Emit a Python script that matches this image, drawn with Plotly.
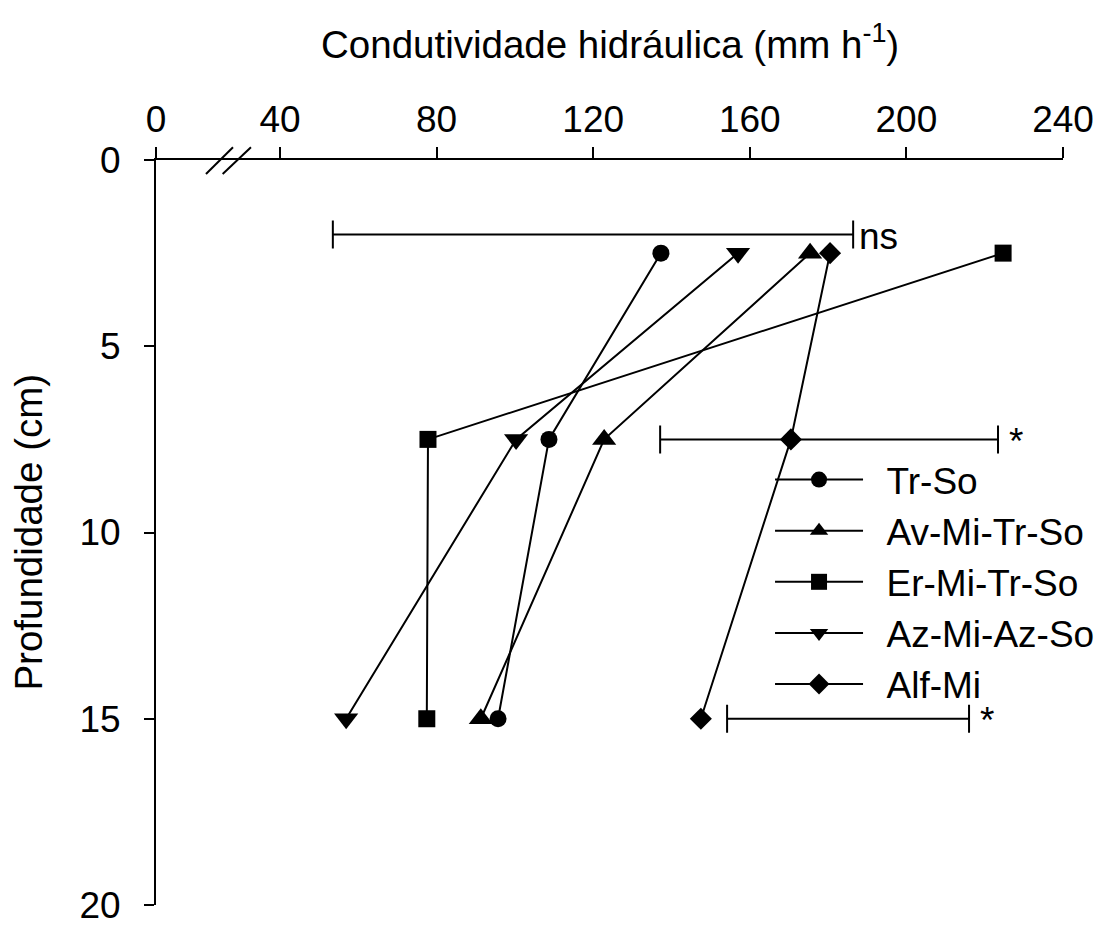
import plotly.graph_objects as go

# ---- data ----
depths = [2.5, 7.5, 15]
series_names = ["Tr-So", "Av-Mi-Tr-So", "Er-Mi-Tr-So", "Az-Mi-Az-So", "Alf-Mi"]
tr_so = [137.3, 108.7, 95.7]
av_mi_tr_so = [175.4, 122.8, 91.3]
er_mi_tr_so = [224.7, 77.8, 77.5]
az_mi_az_so = [157.0, 100.3, 56.9]
alf_mi = [180.5, 170.5, 147.5]
symbols = ["circle", "triangle-up", "square", "triangle-down", "diamond"]
sizes = [17, 21, 17, 21, 17]

# significance bars (left end, right end, depth, label)
sig_depth = [2.0, 7.5, 15]
sig_left = [53.5, 137.1, 154.2]
sig_right = [186.4, 223.4, 216.0]
sig_label = ["ns", "*", "*"]

# x axis with a break: "0" is drawn at this position
X_ZERO_POS = 8.33
x_tick_vals = [X_ZERO_POS, 40, 80, 120, 160, 200, 240]
x_tick_text = ["0", "40", "80", "120", "160", "200", "240"]
y_tick_vals = [0, 5, 10, 15, 20]

FONT = "Liberation Sans, Arial, sans-serif"
FS = 37

fig = go.Figure()
all_series = [tr_so, av_mi_tr_so, er_mi_tr_so, az_mi_az_so, alf_mi]
for name, vals, sym, sz in zip(series_names, all_series, symbols, sizes):
    fig.add_trace(go.Scatter(
        x=vals, y=depths, name="\u2002" + name, mode="lines+markers",
        line=dict(color="black", width=2),
        marker=dict(symbol=sym, size=sz, color="black"),
    ))

for d, l, r in zip(sig_depth, sig_left, sig_right):
    fig.add_trace(go.Scatter(
        x=[(l + r) / 2], y=[d], mode="markers", showlegend=False,
        marker=dict(size=2, opacity=0),
        error_x=dict(type="data", array=[(r - l) / 2], symmetric=True,
                     color="black", thickness=2, width=14),
        hoverinfo="skip",
    ))

annotations = []
for d, r, t in zip(sig_depth, sig_right, sig_label):
    annotations.append(dict(
        x=r, y=d, xref="x", yref="y", text=t, showarrow=False,
        xanchor="left", yanchor="middle",
        xshift=4 if t == "ns" else 9,
        yshift=-2,
        font=dict(family=FONT, size=FS, color="black"),
    ))

annotations.append(dict(
    x=0.5, y=1.158, xref="paper", yref="paper",
    text="Condutividade hidráulica (mm h<sup>-1</sup>)", showarrow=False,
    xanchor="center", yanchor="middle",
    font=dict(family=FONT, size=38.5, color="black"),
))
annotations.append(dict(
    x=-0.141, y=0.50, xref="paper", yref="paper",
    text="Profundidade (cm)", showarrow=False, textangle=-90,
    xanchor="center", yanchor="middle",
    font=dict(family=FONT, size=38.5, color="black"),
))

# axis break marks (paper coordinates)
shapes = []
for x0, x1 in [(0.0551, 0.0849), (0.0735, 0.1047)]:
    shapes.append(dict(type="line", xref="paper", yref="paper",
                       x0=x0, y0=0.9812, x1=x1, y1=1.0171,
                       line=dict(color="black", width=2)))

fig.update_layout(
    template="none",
    width=1108, height=925,
    margin=dict(l=156, r=45, t=160, b=20, pad=0, autoexpand=False),
    paper_bgcolor="white", plot_bgcolor="white",
    font=dict(family=FONT, size=FS, color="black"),
    showlegend=True,
    legend=dict(
        x=0.677, y=0.612, xanchor="left", yanchor="top",
        bgcolor="rgba(0,0,0,0)", borderwidth=0,
        font=dict(family=FONT, size=FS),
        itemwidth=88, tracegroupgap=0,
    ),
    annotations=annotations,
    shapes=shapes,
    xaxis=dict(
        side="top", range=[X_ZERO_POS, 240], autorange=False,
        tickmode="array", tickvals=x_tick_vals, ticktext=x_tick_text,
        showline=True, linecolor="black", linewidth=2,
        ticks="outside", ticklen=11, tickwidth=2, tickcolor="black",
        showgrid=False, zeroline=False, automargin=False,
        tickfont=dict(family=FONT, size=FS),
        ticklabeloverflow="allow",
    ),
    yaxis=dict(
        range=[20, 0], autorange=False,
        tickmode="array", tickvals=y_tick_vals,
        showline=True, linecolor="black", linewidth=2,
        ticks="outside", ticklen=10, tickwidth=2, tickcolor="black",
        showgrid=False, zeroline=False, automargin=False,
        tickfont=dict(family=FONT, size=FS),
        ticklabelstandoff=16,
        ticklabeloverflow="allow",
    ),
)

fig.write_html("out.html")
